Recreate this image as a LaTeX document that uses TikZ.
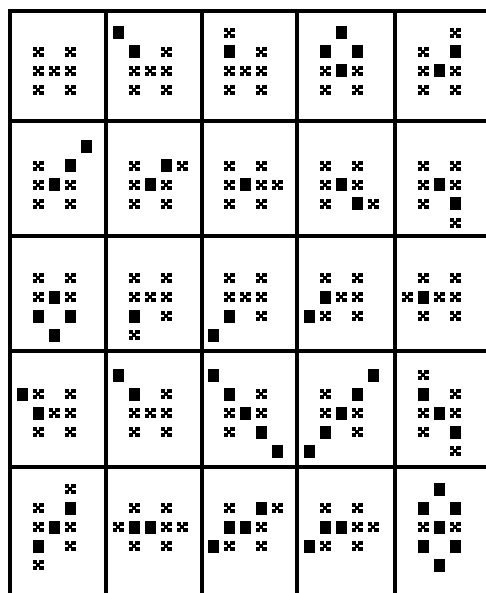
\documentclass[tikz,border=0pt]{standalone}
\usepackage{tikz}

% one cell: shift to the first column/row, then crosses and blocks
\newcommand{\gridcell}[4]{%
  \begin{scope}[shift={(#1,#2)}]
    \foreach \c/\r in {#3}
      \pic at (\c*16,\r*19) {crossmark};
    \if\relax\detokenize{#4}\relax\else
      \foreach \c/\r in {#4}
        \fill[black] (\c*16-5.5,\r*19-6.5) rectangle ++(11,13);
    \fi
  \end{scope}}

\begin{document}
\begin{tikzpicture}[
    x=1pt, y=-1pt,
    gridline/.style={line width=4pt, black},
    crossmark/.pic={
      \fill[black] (-5.5,-5) rectangle ++(4.3,3.9);
      \fill[black] (1.2,-5) rectangle ++(4.3,3.9);
      \fill[black] (-2.1,-1.9) rectangle ++(4.2,3.8);
      \fill[black] (-5.5,1.1) rectangle ++(4.3,3.9);
      \fill[black] (1.2,1.1) rectangle ++(4.3,3.9);
    }
]

\useasboundingbox[fill=white] (0,0) rectangle (486,593);

% ---------------- GRID ----------------

\foreach \x in {10,106,202,297,395}
  \draw[gridline] (\x,9) -- (\x,593);

\foreach \y in {11,121,236,351,467}
  \draw[gridline] (8,\y) -- (486,\y);

% ---------------- ROW 1 ----------------

\gridcell{38}{52}{0/0,2/0,0/1,1/1,2/1,0/2,2/2}{}
\gridcell{134}{52}{2/0,0/1,1/1,2/1,0/2,2/2}{-1/-1,0/0}
\gridcell{229}{52}{0/-1,2/0,0/1,1/1,2/1,0/2,2/2}{0/0}
\gridcell{325}{52}{0/1,2/1,0/2,2/2}{1/-1,0/0,2/0,1/1}
\gridcell{423}{52}{2/-1,0/0,0/1,2/1,0/2,2/2}{2/0,1/1}

% ---------------- ROW 2 ----------------

\gridcell{38}{166}{0/0,0/1,2/1,0/2,2/2}{3/-1,2/0,1/1}
\gridcell{134}{166}{0/0,3/0,0/1,2/1,0/2,2/2}{2/0,1/1}
\gridcell{229}{166}{0/0,2/0,0/1,2/1,3/1,0/2,2/2}{1/1}
\gridcell{325}{166}{0/0,2/0,0/1,2/1,0/2,3/2}{1/1,2/2}
\gridcell{423}{166}{0/0,2/0,0/1,2/1,0/2,2/3}{1/1,2/2}

% ---------------- ROW 3 ----------------

\gridcell{38}{278}{0/0,2/0,0/1,2/1}{1/1,0/2,2/2,1/3}
\gridcell{134}{278}{0/0,2/0,0/1,1/1,2/1,2/2,0/3}{0/2}
\gridcell{229}{278}{0/0,2/0,0/1,1/1,2/1,2/2}{0/2,-1/3}
\gridcell{325}{278}{0/0,2/0,1/1,2/1,0/2,2/2}{0/1,-1/2}
\gridcell{423}{278}{0/0,2/0,-1/1,1/1,2/1,0/2,2/2}{0/1}

% ---------------- ROW 4 ----------------

\gridcell{38}{394}{0/0,2/0,1/1,2/1,0/2,2/2}{-1/0,0/1}
\gridcell{134}{394}{2/0,0/1,1/1,2/1,0/2,2/2}{-1/-1,0/0}
\gridcell{229}{394}{2/0,0/1,2/1,0/2}{-1/-1,0/0,1/1,2/2,3/3}
\gridcell{325}{394}{0/0,0/1,2/1,2/2}{3/-1,2/0,1/1,0/2,-1/3}
\gridcell{423}{394}{0/-1,2/0,0/1,2/1,0/2,2/3}{0/0,1/1,2/2}

% ---------------- ROW 5 ----------------

\gridcell{38}{508}{2/-1,0/0,0/1,2/1,2/2,0/3}{2/0,1/1,0/2}
\gridcell{134}{508}{0/0,2/0,-1/1,2/1,3/1,0/2,2/2}{0/1,1/1}
\gridcell{229}{508}{0/0,3/0,2/1,0/2,2/2}{2/0,0/1,1/1,-1/2}
\gridcell{325}{508}{0/0,2/0,2/1,3/1,0/2,2/2}{0/1,1/1,-1/2}
\gridcell{423}{508}{0/1,2/1}{1/-1,0/0,2/0,1/1,0/2,2/2,1/3}

\end{tikzpicture}
\end{document}
